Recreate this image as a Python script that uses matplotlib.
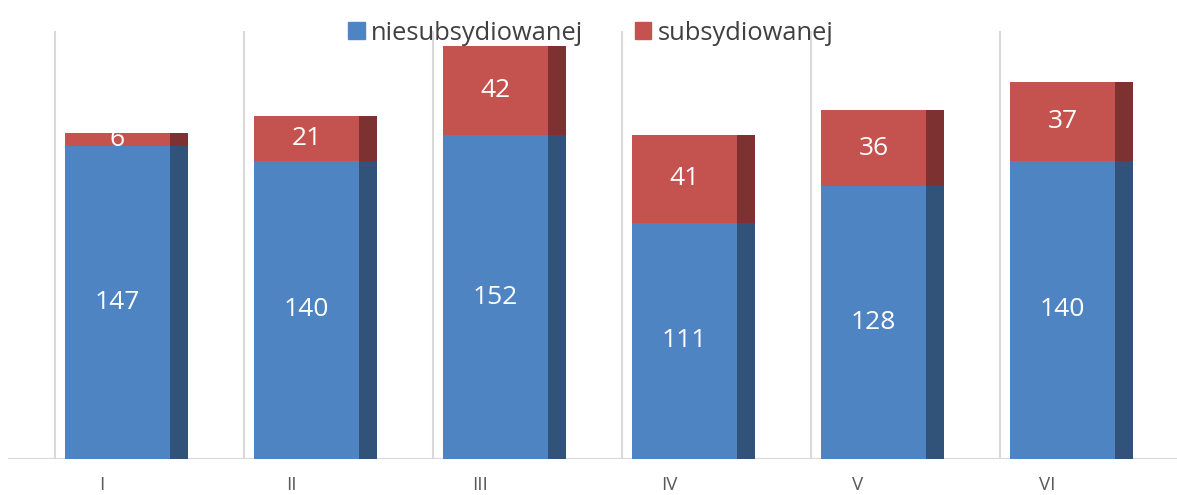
import matplotlib
matplotlib.use("Agg")
import matplotlib.pyplot as plt
import numpy as np
from matplotlib.patches import Patch

categories = ["I", "II", "III", "IV", "V", "VI"]
niesub = [147, 140, 152, 111, 128, 140]
sub = [6, 21, 42, 41, 36, 37]
series_names = ["niesubsydiowanej", "subsydiowanej"]

BLUE, BLUE_DARK = "#4F84C2", "#325379"
RED, RED_DARK = "#C4524F", "#7E3131"
GRID = "#D9D9D9"

plt.rcParams["font.family"] = ["Open Sans", "DejaVu Sans"]

fig = plt.figure(figsize=(11.77, 4.95), dpi=100)
ax = fig.add_axes([8 / 1177, 36 / 495, 1169 / 1177, 428 / 495])

x = np.arange(len(categories))
face_w = 105 / 189
side_w = 18 / 189
face_x = x - 0.5 + 10 / 189
side_x = face_x + face_w

# category separators
for xi in x:
    ax.axvline(xi - 0.5, color=GRID, lw=1.5, zorder=0)
ax.axhline(0, color=GRID, lw=1.5, zorder=1)

b1 = ax.bar(face_x, niesub, width=face_w, align="edge", color=BLUE, zorder=2)
ax.bar(side_x, niesub, width=side_w, align="edge", color=BLUE_DARK, zorder=2)
b2 = ax.bar(face_x, sub, width=face_w, bottom=niesub, align="edge", color=RED, zorder=2)
ax.bar(side_x, sub, width=side_w, bottom=niesub, align="edge", color=RED_DARK, zorder=2)

for cont in (b1, b2):
    ax.bar_label(cont, label_type="center", color="white", fontsize=19)

ax.set_xlim(-0.5 - 47 / 189, -0.5 + 1122 / 189)
ax.set_ylim(0, 201)
ax.set_xticks(x - 0.5 + 47 / 189)
ax.set_xticklabels(categories, color="#595959", fontsize=13.5)
ax.tick_params(axis="x", length=0, pad=12)
ax.set_yticks([])
for s in ax.spines.values():
    s.set_visible(False)

handles = [Patch(color=BLUE), Patch(color=RED)]
fig.legend(handles, series_names, loc="upper center", bbox_to_anchor=(0.502, 1.005),
           ncol=2, frameon=False, fontsize=18.4, handlelength=0.65, handleheight=0.65,
           handletextpad=0.25, columnspacing=2.0, labelcolor="#404040")

fig.savefig("out.png", dpi=100)
